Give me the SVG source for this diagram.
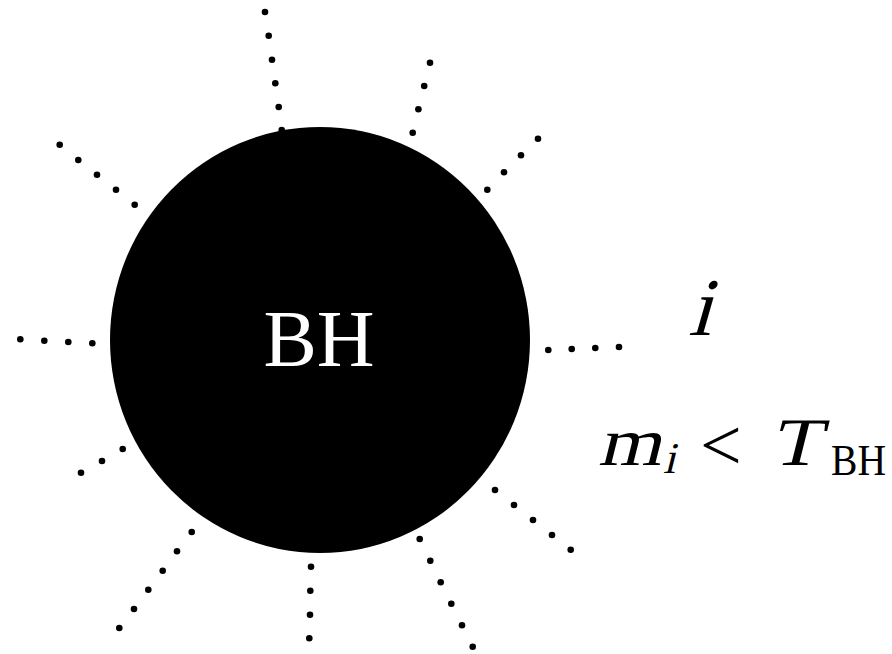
<svg xmlns="http://www.w3.org/2000/svg" width="892" height="654" viewBox="0 0 892 654">
<style>
.d{fill:#000}
.t{font-family:"Liberation Serif","Times New Roman",serif;fill:#000}
</style>
<rect width="892" height="654" fill="#fff"/>
<g id="rays" class="d">
  <g id="ray-top"><circle cx="265" cy="12" r="3.3"/><circle cx="268.7" cy="35.7" r="3.3"/><circle cx="272" cy="59.7" r="3.3"/><circle cx="275.3" cy="83.3" r="3.3"/><circle cx="278.7" cy="107" r="3.3"/><circle cx="281.7" cy="130" r="3.3"/></g>
  <g id="ray-topright"><circle cx="430" cy="62.7" r="3.3"/><circle cx="424.2" cy="86" r="3.3"/><circle cx="418.4" cy="109.3" r="3.3"/><circle cx="412.7" cy="132.7" r="3.3"/></g>
  <g id="ray-upleft"><circle cx="59.7" cy="144.7" r="3.3"/><circle cx="78.3" cy="160" r="3.3"/><circle cx="97" cy="174.7" r="3.3"/><circle cx="116" cy="189.7" r="3.3"/><circle cx="134.7" cy="204.7" r="3.3"/></g>
  <g id="ray-upright"><circle cx="538" cy="138.7" r="3.3"/><circle cx="521" cy="155.3" r="3.3"/><circle cx="504" cy="172.3" r="3.3"/><circle cx="487.3" cy="189.7" r="3.3"/></g>
  <g id="ray-left"><circle cx="20.3" cy="339.3" r="3.3"/><circle cx="44.3" cy="340.7" r="3.3"/><circle cx="68.3" cy="342" r="3.3"/><circle cx="92.3" cy="343.3" r="3.3"/></g>
  <g id="ray-right"><circle cx="548.3" cy="350" r="3.3"/><circle cx="571.7" cy="349" r="3.3"/><circle cx="595.3" cy="348" r="3.3"/><circle cx="619" cy="347" r="3.3"/></g>
  <g id="ray-lowleft"><circle cx="122.7" cy="449" r="3.3"/><circle cx="102" cy="461" r="3.3"/><circle cx="81" cy="472.7" r="3.3"/></g>
  <g id="ray-lowleft2"><circle cx="191.7" cy="532" r="3.3"/><circle cx="177" cy="551.3" r="3.3"/><circle cx="162.7" cy="570.7" r="3.3"/><circle cx="148.3" cy="589.7" r="3.3"/><circle cx="134" cy="609" r="3.3"/><circle cx="119.3" cy="628" r="3.3"/></g>
  <g id="ray-bottom"><circle cx="311" cy="566.7" r="3.3"/><circle cx="310.3" cy="590.7" r="3.3"/><circle cx="310" cy="614.7" r="3.3"/><circle cx="309.3" cy="638.3" r="3.3"/></g>
  <g id="ray-lowright2"><circle cx="419.7" cy="539" r="3.3"/><circle cx="430.3" cy="560.7" r="3.3"/><circle cx="440.7" cy="582.3" r="3.3"/><circle cx="451.3" cy="603.7" r="3.3"/><circle cx="462" cy="625.3" r="3.3"/><circle cx="472.7" cy="646.7" r="3.3"/></g>
  <g id="ray-lowright"><circle cx="495" cy="490" r="3.3"/><circle cx="514" cy="505" r="3.3"/><circle cx="533" cy="520" r="3.3"/><circle cx="552" cy="535" r="3.3"/><circle cx="570.7" cy="549.7" r="3.3"/></g>
</g>
<g id="bh">
  <ellipse cx="320" cy="340" rx="210" ry="213" fill="#000"/>
  <text class="t" x="319" y="366" font-size="80" text-anchor="middle" style="fill:#fff">BH</text>
</g>
<g id="label-i">
  <text class="t" font-size="82" transform="translate(688,335) skewX(-16)">i</text>
</g>
<g id="label-cond">
  <text class="t" font-size="68" textLength="63" lengthAdjust="spacingAndGlyphs" transform="translate(598,465) skewX(-14)">m</text>
  <text class="t" font-size="44" transform="translate(663,473) skewX(-14)">i</text>
  <text class="t" x="700" y="470" font-size="74">&lt;</text>
  <text class="t" font-size="68" textLength="50" lengthAdjust="spacingAndGlyphs" transform="translate(770,465) skewX(-14)">T</text>
  <text class="t" x="831" y="475" font-size="45" textLength="55" lengthAdjust="spacingAndGlyphs">BH</text>
</g>
</svg>
